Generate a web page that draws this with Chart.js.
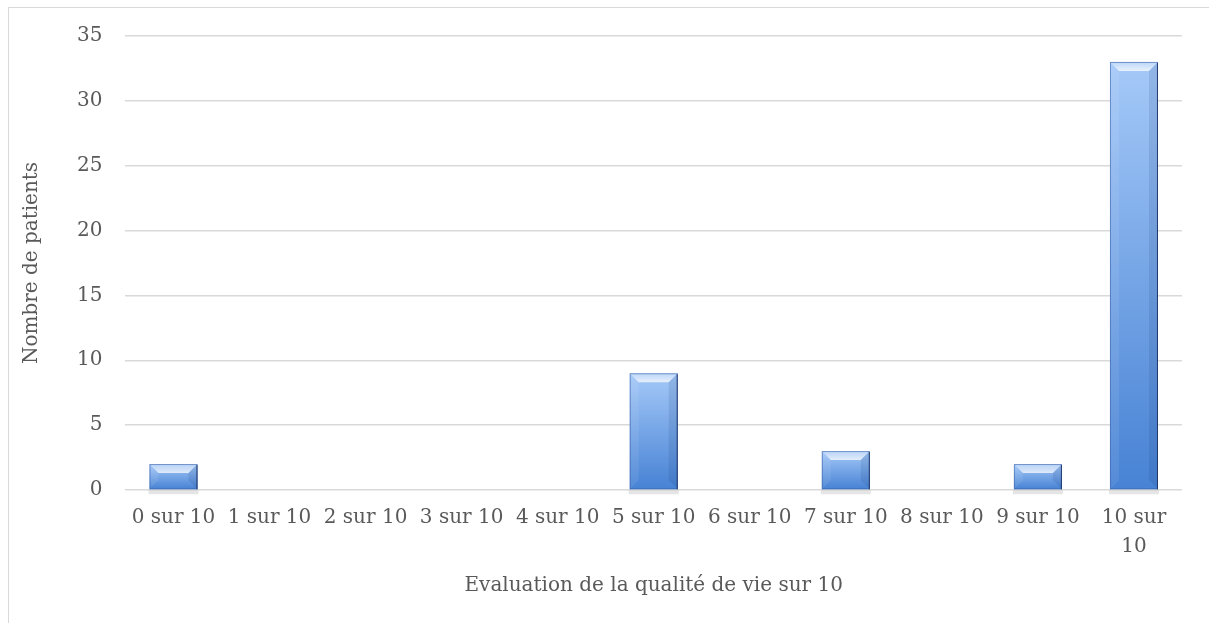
<!DOCTYPE html>
<html>
<head>
<meta charset="utf-8">
<script src="https://cdn.jsdelivr.net/npm/chart.js@4"></script>
<style>
  body { margin: 0; background: #fff; }
  .frame {
    position: absolute; left: 8px; top: 7px;
    width: 1210px; height: 620px;
    border: 1px solid #d9d9d9; box-sizing: border-box;
  }
  .box {
    position: absolute; left: 9px; top: 1px;
    width: 1208px; height: 628px;
  }
</style>
</head>
<body>
<div class="frame"></div>
<div class="box"><canvas id="qualityChart"></canvas></div>
<script>
const categories = [
  "0 sur 10", "1 sur 10", "2 sur 10", "3 sur 10", "4 sur 10", "5 sur 10",
  "6 sur 10", "7 sur 10", "8 sur 10", "9 sur 10", ["10 sur", "10"]
];
const patients = [2, 0, 0, 0, 0, 9, 0, 3, 0, 2, 33];
const yTicks = [0, 5, 10, 15, 20, 25, 30, 35];

const textColor = "#595959";
const fontFamily = "'DejaVu Serif', serif";

// beveled bars like the office chart
const bevelBars = {
  id: "bevelBars",
  afterDatasetsDraw(chart) {
    const ctx = chart.ctx;
    chart.getDatasetMeta(0).data.forEach((bar) => {
      const left = bar.x - bar.width / 2;
      const top = bar.y;
      const h = bar.base - bar.y;
      const w = bar.width;
      if (h <= 0) return;
      ctx.save();
      // soft shadow under the bar
      ctx.fillStyle = "rgba(0,0,0,0.10)";
      ctx.fillRect(left - 1, bar.base + 1, w + 2, 4);

      const grad = ctx.createLinearGradient(0, top, 0, bar.base);
      grad.addColorStop(0, "#a5c9f8");
      grad.addColorStop(1, "#4782d4");
      ctx.fillStyle = grad;
      ctx.fillRect(left, top, w, h);

      const b = Math.min(9, h / 2);
      // top bevel
      const tg = ctx.createLinearGradient(0, top, 0, top + b);
      tg.addColorStop(0, "rgba(255,255,255,0.25)");
      tg.addColorStop(1, "rgba(255,255,255,0.75)");
      ctx.fillStyle = tg;
      ctx.beginPath();
      ctx.moveTo(left, top);
      ctx.lineTo(left + w, top);
      ctx.lineTo(left + w - b, top + b);
      ctx.lineTo(left + b, top + b);
      ctx.closePath();
      ctx.fill();
      // side bevels
      ctx.fillStyle = "rgba(255,255,255,0.08)";
      ctx.beginPath();
      ctx.moveTo(left, top);
      ctx.lineTo(left + b, top + b);
      ctx.lineTo(left + b, bar.base - b);
      ctx.lineTo(left, bar.base);
      ctx.closePath();
      ctx.fill();
      ctx.fillStyle = "rgba(20,50,110,0.12)";
      ctx.beginPath();
      ctx.moveTo(left + w, top);
      ctx.lineTo(left + w - b, top + b);
      ctx.lineTo(left + w - b, bar.base - b);
      ctx.lineTo(left + w, bar.base);
      ctx.closePath();
      ctx.fill();
      // edges
      ctx.strokeStyle = "rgba(60,100,170,0.6)";
      ctx.lineWidth = 1;
      ctx.strokeRect(left + 0.5, top + 0.5, w - 1, h - 1);
      ctx.strokeStyle = "rgba(25,45,90,0.8)";
      ctx.beginPath();
      ctx.moveTo(left + w - 0.5, top + 1);
      ctx.lineTo(left + w - 0.5, bar.base);
      ctx.stroke();
      ctx.restore();
    });
  }
};

new Chart(document.getElementById("qualityChart"), {
  type: "bar",
  data: {
    labels: categories,
    datasets: [
      {
        label: "Nombre de patients",
        data: patients,
        backgroundColor: "rgba(0,0,0,0)",
        categoryPercentage: 1,
        barPercentage: 0.5
      }
    ]
  },
  options: {
    responsive: true,
    maintainAspectRatio: false,
    animation: false,
    layout: {
      padding: { top: 4, right: 35, bottom: 31, left: 7 }
    },
    plugins: {
      legend: { display: false },
      tooltip: { enabled: false }
    },
    scales: {
      x: {
        grid: { display: false, drawTicks: false },
        border: { display: false },
        ticks: {
          color: textColor,
          maxRotation: 0,
          autoSkip: false,
          padding: 13,
          font: { family: fontFamily, size: 20, lineHeight: 1.45 }
        },
        title: {
          display: true,
          text: "Evaluation de la qualité de vie sur 10",
          color: textColor,
          padding: { top: 0, bottom: 0 },
          font: { family: fontFamily, size: 20 }
        }
      },
      y: {
        min: 0,
        max: 35,
        afterBuildTicks: (axis) => {
          axis.ticks = yTicks.map((v) => ({ value: v }));
        },
        grid: { color: "#d9d9d9", lineWidth: 1.5, drawTicks: false },
        border: { display: false },
        ticks: {
          color: textColor,
          padding: 23,
          font: { family: fontFamily, size: 20 }
        },
        title: {
          display: true,
          text: "Nombre de patients",
          color: textColor,
          padding: { top: 4, bottom: 10 },
          font: { family: fontFamily, size: 20 }
        }
      }
    }
  },
  plugins: [bevelBars]
});
</script>
</body>
</html>
